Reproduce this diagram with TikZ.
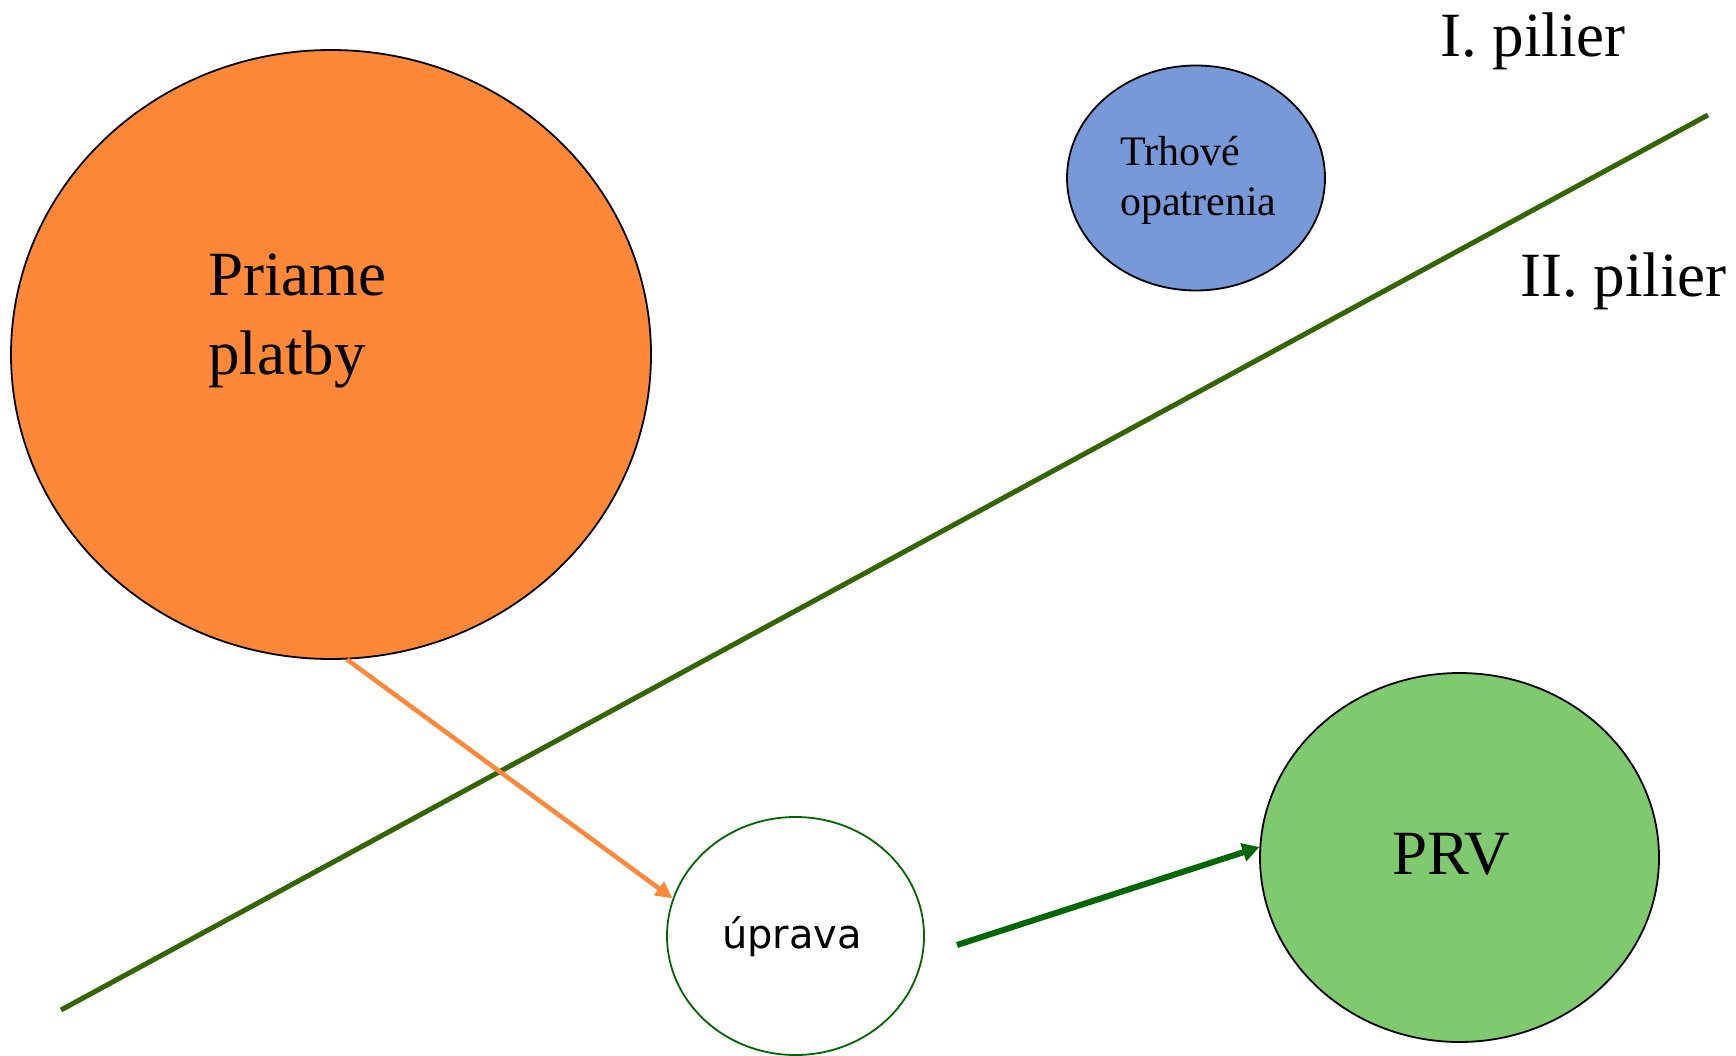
\documentclass[tikz,border=0pt]{standalone}
\usepackage{fontspec}
\setmainfont{Liberation Serif}
\newfontfamily\upravafont{DejaVu Sans}
\usetikzlibrary{shapes.geometric,arrows.meta}

\definecolor{priamefill}{RGB}{255,136,56}
\definecolor{trhfill}{RGB}{119,153,216}
\definecolor{prvfill}{RGB}{127,201,111}
\definecolor{dividegreen}{RGB}{51,102,0}
\definecolor{darkgreen}{RGB}{0,102,0}

\tikzset{
    blob/.style={ellipse, draw=black, line width=1.8pt, inner sep=0pt},
    bigtext/.style={font=\fontsize{63}{79}\selectfont, inner sep=0pt, align=left},
}

\begin{document}
\begin{tikzpicture}[x=1pt, y=-1pt]
        \useasboundingbox (0,0) rectangle (1736,1056);
        % the two pillars
        \draw[dividegreen, line width=5pt] (61,1010) -- (1708,115);
        \node[bigtext, anchor=base west] (pilierone) at (1440,57) {I. pilier};
        \node[bigtext, anchor=base west] (piliertwo) at (1520,297) {II. pilier};
        % blobs
        \node[blob, fill=priamefill, minimum width=640, minimum height=609] (priame) at (331,354.5) {};
        \node[blob, fill=trhfill, minimum width=258, minimum height=225] (trhove) at (1196,178) {};
        \node[blob, fill=prvfill, minimum width=399, minimum height=369] (prv) at (1459.5,857.5) {};
        \node[blob, draw=darkgreen, fill=white, minimum width=257, minimum height=238] (uprava) at (795.5,936) {};
        % texts
        \node[bigtext, anchor=north west] (priametext) at (208,254) {Priame\\platby};
        \node[font=\fontsize{42}{50}\selectfont, inner sep=0pt, align=left, anchor=north west] (trhovetext) at (1120,136) {Trhové\\opatrenia};
        \node[bigtext, anchor=base west] (prvtext) at (1392,874) {PRV};
        \node[font=\upravafont\fontsize{40}{48}\selectfont, inner sep=0pt, anchor=base west] (upravatext) at (722,948) {úprava};
        % arrows
        \coordinate (greenstart) at (957,945);
        \draw[priamefill, line width=4.5pt, -{Triangle[length=17pt, width=16pt]}] (priame.-87) -- (uprava.163);
        \draw[darkgreen, line width=6pt, -{Triangle[length=17pt, width=18pt]}] (greenstart) -- (prv.177);
    \end{tikzpicture}
\end{document}
